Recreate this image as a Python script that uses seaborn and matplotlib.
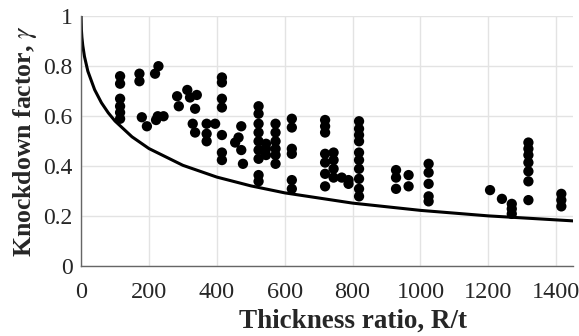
import matplotlib
matplotlib.use("Agg")
import matplotlib.pyplot as plt
import seaborn as sns
import pandas as pd

# test data: thickness ratio R/t and measured knockdown factor
r_t = [
    115, 115, 115, 115, 115, 115,
    172, 172, 179, 194, 221, 226, 243, 228, 218,
    283, 288, 313, 321, 341, 336, 329, 336,
    370, 370, 370, 395,
    415, 415, 415, 415, 415, 415, 415,
    454, 464, 472, 472, 477,
    523, 523, 523, 523, 523, 523, 523, 523, 523,
    545, 545, 545,
    573, 573, 573, 573, 573, 573,
    621, 621, 621, 621, 621, 621,
    719, 719, 719, 719, 719, 719, 719,
    744, 744, 744, 744, 768, 788, 788,
    819, 819, 819, 819, 819, 819, 819, 819, 819, 819,
    928, 928, 928, 965, 965,
    1024, 1024, 1024, 1024, 1024,
    1205, 1240, 1269, 1269, 1269,
    1318, 1318, 1318, 1318, 1318, 1318, 1318,
    1415, 1415, 1415,
]
knockdown = [
    0.76, 0.73, 0.67, 0.64, 0.615, 0.59,
    0.77, 0.74, 0.596, 0.56, 0.585, 0.60, 0.60, 0.80, 0.77,
    0.68, 0.64, 0.705, 0.675, 0.685, 0.63, 0.57, 0.535,
    0.57, 0.53, 0.50, 0.57,
    0.755, 0.735, 0.67, 0.635, 0.525, 0.455, 0.425,
    0.495, 0.515, 0.56, 0.465, 0.41,
    0.64, 0.61, 0.57, 0.535, 0.50, 0.465, 0.43, 0.365, 0.34,
    0.49, 0.47, 0.445,
    0.57, 0.535, 0.50, 0.47, 0.445, 0.41,
    0.59, 0.555, 0.47, 0.45, 0.345, 0.31,
    0.585, 0.56, 0.535, 0.45, 0.415, 0.37, 0.32,
    0.455, 0.425, 0.39, 0.355, 0.355, 0.345, 0.33,
    0.58, 0.55, 0.525, 0.50, 0.455, 0.425, 0.39, 0.35, 0.31, 0.28,
    0.385, 0.355, 0.31, 0.365, 0.32,
    0.41, 0.375, 0.33, 0.28, 0.26,
    0.305, 0.27, 0.25, 0.23, 0.21,
    0.495, 0.47, 0.445, 0.415, 0.38, 0.34, 0.265,
    0.29, 0.265, 0.24,
]

# design (lower bound) curve
curve_r_t = [0, 1, 2.5, 5, 10, 20, 40, 60, 80, 100, 150, 200, 300, 400,
             500, 600, 800, 1000, 1200, 1450]
curve_gamma = [1.0, 0.945, 0.915, 0.883, 0.839, 0.780, 0.706, 0.654, 0.614,
               0.581, 0.518, 0.471, 0.404, 0.357, 0.322, 0.294, 0.253,
               0.224, 0.202, 0.182]

points = pd.DataFrame({"r_t": r_t, "gamma": knockdown})
curve = pd.DataFrame({"r_t": curve_r_t, "gamma": curve_gamma})

sns.set_style("whitegrid")
plt.rcParams["font.family"] = ["Liberation Serif", "DejaVu Serif"]
plt.rcParams["mathtext.fontset"] = "stix"

fig = plt.figure(figsize=(5.79, 3.36), dpi=100)
ax = fig.add_axes([0.14, 0.207, 0.85, 0.745])

sns.lineplot(data=curve, x="r_t", y="gamma", color="black", linewidth=2.2, ax=ax)
sns.scatterplot(data=points, x="r_t", y="gamma", color="black", s=55,
                edgecolor="none", ax=ax, zorder=3)

ax.set_xlim(0, 1450)
ax.set_ylim(0, 1)
ax.set_xticks(range(0, 1401, 200))
ax.set_yticks([0, 0.2, 0.4, 0.6, 0.8, 1])
ax.set_yticklabels(["0", "0.2", "0.4", "0.6", "0.8", "1"])
ax.grid(color="#e3e3e3", linewidth=1)
ax.tick_params(direction="in", length=4, color="#666666")
ax.tick_params(axis="x", labelsize=17.5, pad=11)
ax.tick_params(axis="y", labelsize=17, pad=6)
for side in ["top", "right"]:
    ax.spines[side].set_visible(False)
for side in ["left", "bottom"]:
    ax.spines[side].set_color("#666666")
    ax.spines[side].set_linewidth(1)

ax.set_xlabel("Thickness ratio, R/t", fontsize=19.5, fontweight="bold")
ax.xaxis.set_label_coords(0.553, -0.17)
ax.set_ylabel(r"Knockdown factor, $\gamma$", fontsize=18.5, fontweight="bold",
              labelpad=3)

fig.savefig("out.png", dpi=100)
